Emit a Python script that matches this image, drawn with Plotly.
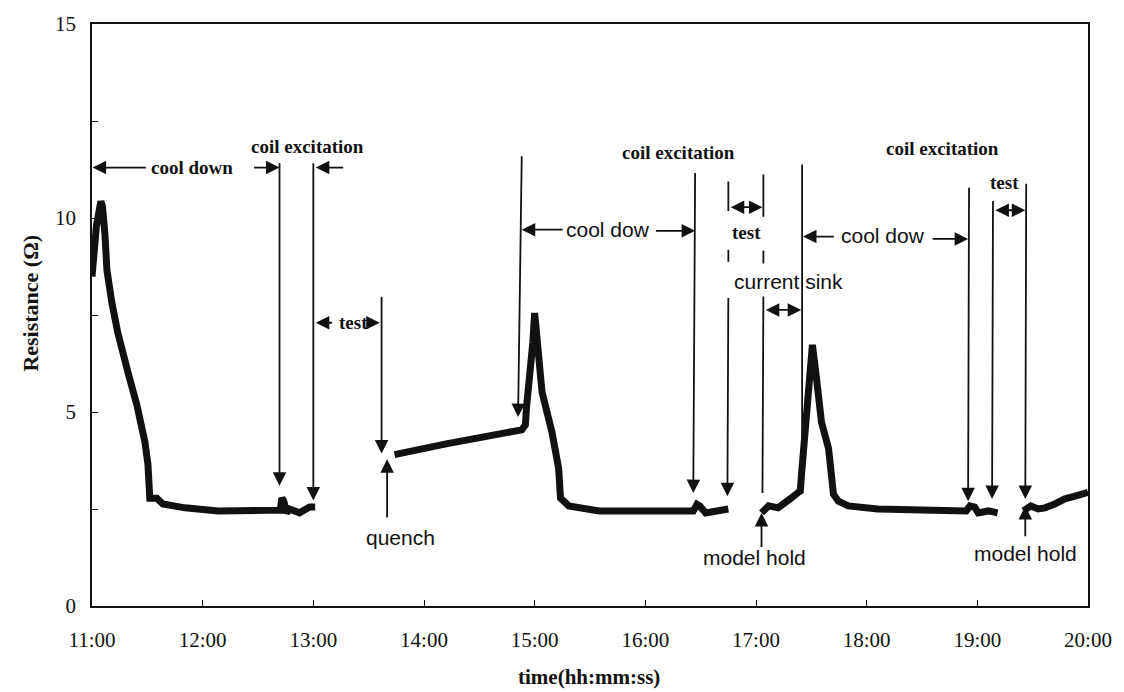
import plotly.graph_objects as go

DAY = "2000-01-01 "

# ---- data ----
time_a = ["11:00:00", "11:00:36", "11:02:24", "11:04:48", "11:05:40", "11:07:00", "11:08:06",
          "11:10:48", "11:14:00", "11:19:30", "11:24:20", "11:28:40", "11:30:20", "11:31:20",
          "11:35:10", "11:38:25", "11:50:25", "12:08:25", "12:36:00", "12:42:00", "12:43:00",
          "12:44:00", "12:45:30", "12:47:00", "12:52:30", "12:58:00", "13:01:00"]
res_a = [8.49, 8.83, 9.8, 10.43, 10.3, 9.59, 8.65,
         7.81, 7.04, 6.02, 5.18, 4.23, 3.65, 2.78,
         2.78, 2.63, 2.53, 2.45, 2.45, 2.47, 2.78,
         2.7, 2.40, 2.50, 2.40, 2.55, 2.55]

time_b = ["13:44:00", "14:12:00", "14:53:00", "14:55:00", "14:55:30", "14:56:40", "14:59:00",
          "15:00:00", "15:01:50", "15:04:00", "15:09:20", "15:13:00", "15:14:00", "15:18:30",
          "15:35:00", "16:26:00", "16:28:00", "16:29:30", "16:32:40", "16:38:00", "16:43:30",
          "16:45:00"]
res_b = [3.90, 4.18, 4.54, 4.67, 5.08, 5.59, 6.79,
         7.55, 6.61, 5.51, 4.49, 3.55, 2.78, 2.58,
         2.45, 2.45, 2.62, 2.58, 2.40, 2.45, 2.53,
         2.50]

time_c = ["17:03:00", "17:06:50", "17:12:00", "17:16:00", "17:19:00", "17:23:00", "17:24:00",
          "17:24:40", "17:25:10", "17:25:50", "17:27:25", "17:29:30", "17:30:35", "17:32:25",
          "17:34:00", "17:35:30", "17:39:20", "17:41:00", "17:42:00", "17:44:40", "17:50:00",
          "18:06:00", "18:54:00", "18:56:00", "18:58:30", "19:00:30", "19:06:00", "19:11:00"]
res_c = [2.40, 2.58, 2.53, 2.65, 2.78, 2.93, 2.96,
         3.39, 3.72, 4.16, 5.26, 6.28, 6.73, 6.02,
         5.26, 4.74, 4.06, 3.39, 2.88, 2.70, 2.58,
         2.50, 2.45, 2.58, 2.55, 2.40, 2.45, 2.40]

time_d = ["19:25:00", "19:29:00", "19:33:00", "19:36:40", "19:42:00", "19:47:30", "19:53:00",
          "20:00:00"]
res_d = [2.45, 2.58, 2.50, 2.53, 2.63, 2.76, 2.83, 2.93]

hour_ticks = ["11:00", "12:00", "13:00", "14:00", "15:00", "16:00", "17:00", "18:00",
              "19:00", "20:00"]
y_ticks = [0, 2.5, 5, 7.5, 10, 12.5, 15]
y_tick_labels = ["0", "", "5", "", "10", "", "15"]

# ---- build curve ----
xs, ys = [], []
for tl, rl in [(time_a, res_a), (time_b, res_b), (time_c, res_c), (time_d, res_d)]:
    xs += [DAY + t for t in tl] + [None]
    ys += list(rl) + [None]

fig = go.Figure()
fig.add_trace(go.Scatter(x=xs, y=ys, mode="lines", connectgaps=False,
                         line=dict(color="#111111", width=7), showlegend=False,
                         hoverinfo="skip"))

SERIF = "Liberation Serif"
SANS = "Liberation Sans"
INK = "#111111"
annotations = []
shapes = []


def T(hms):
    return DAY + hms


def arrow(t0, y0, t1, y1, both=False):
    annotations.append(dict(x=T(t1), y=y1, ax=T(t0), ay=y0, xref="x", yref="y",
                            axref="x", ayref="y", text="", showarrow=True,
                            arrowhead=2, arrowsize=1.5, arrowwidth=1.8,
                            arrowcolor=INK,
                            arrowside="end+start" if both else "end",
                            startarrowhead=2, startarrowsize=1.5))


def line(t0, y0, t1, y1):
    shapes.append(dict(type="line", xref="x", yref="y", x0=T(t0), y0=y0, x1=T(t1), y1=y1,
                       line=dict(color=INK, width=1.8)))


def label(t, y, s, serif=True):
    annotations.append(dict(x=T(t), y=y, xref="x", yref="y", text=s, showarrow=False,
                            xanchor="center", yanchor="middle",
                            font=dict(family=SERIF if serif else SANS,
                                      size=19 if serif else 21, color=INK,
                                      weight="bold" if serif else "normal")))


# group 1
label("11:54:00", 11.30, "cool down")
arrow("11:30:00", 11.30, "11:00:20", 11.30)
arrow("12:27:00", 11.30, "12:41:40", 11.30)
arrow("12:41:40", 11.45, "12:41:40", 3.10)
label("12:57:00", 11.85, "coil excitation")
arrow("13:00:00", 11.45, "13:00:00", 2.72)
arrow("13:17:00", 11.30, "13:01:20", 11.30)
arrow("13:11:00", 7.30, "13:01:20", 7.30)
label("13:22:00", 7.30, "test")
arrow("13:33:00", 7.30, "13:36:00", 7.30)
arrow("13:37:00", 8.01, "13:37:00", 3.93)
arrow("13:40:00", 2.24, "13:40:00", 3.78)
label("13:47:00", 1.76, "quench", serif=False)

# group 2
arrow("14:53:00", 11.63, "14:51:00", 4.87)
label("15:40:00", 9.70, "cool dow", serif=False)
arrow("15:16:00", 9.70, "14:53:00", 9.70)
arrow("16:05:00", 9.67, "16:27:00", 9.67)
arrow("16:27:00", 11.20, "16:26:00", 2.91)
label("16:18:00", 11.70, "coil excitation")
line("16:45:00", 10.94, "16:45:00", 10.18)
line("16:45:00", 9.18, "16:45:00", 8.87)
arrow("16:45:00", 7.98, "16:44:30", 2.83)
line("17:04:00", 11.12, "17:04:00", 10.03)
line("17:04:00", 9.16, "17:04:00", 8.83)
line("17:04:00", 7.98, "17:03:30", 2.91)
arrow("16:45:30", 10.28, "17:03:30", 10.28, both=True)
label("16:55:00", 9.62, "test")
label("17:17:30", 8.37, "current sink", serif=False)
arrow("17:04:30", 7.63, "17:24:30", 7.63, both=True)
line("17:25:00", 11.38, "17:25:00", 3.4)

# group 3
label("18:09:00", 9.55, "cool dow", serif=False)
arrow("17:43:00", 9.52, "17:25:30", 9.52)
arrow("18:35:00", 9.46, "18:55:00", 9.46)
arrow("18:55:30", 10.82, "18:55:00", 2.70)
label("18:41:00", 11.80, "coil excitation")
label("19:14:30", 10.92, "test")
arrow("19:09:00", 10.20, "19:26:00", 10.20, both=True)
arrow("19:08:30", 10.48, "19:08:00", 2.76)
arrow("19:26:30", 10.92, "19:26:00", 2.76)
arrow("19:26:00", 1.76, "19:26:00", 2.58)
label("19:26:00", 1.35, "model hold", serif=False)
arrow("17:03:00", 1.48, "17:03:00", 2.40)
label("16:59:00", 1.25, "model hold", serif=False)

# axis titles placed as paper annotations
annotations.append(dict(xref="paper", yref="paper", x=-0.062, y=0.52, text="Resistance (Ω)",
                        textangle=-90, showarrow=False, xanchor="center", yanchor="middle",
                        font=dict(family=SERIF, size=22, color=INK, weight="bold")))
annotations.append(dict(xref="paper", yref="paper", x=0.4985, y=-0.122, text="time(hh:mm:ss)",
                        showarrow=False, xanchor="center", yanchor="middle",
                        font=dict(family=SERIF, size=21, color=INK, weight="bold")))

fig.update_layout(
    width=1124, height=692,
    margin=dict(l=92, r=34, t=18, b=86),
    paper_bgcolor="white", plot_bgcolor="white",
    annotations=annotations, shapes=shapes,
    xaxis=dict(type="date", range=[T("11:00:00"), T("20:00:00")],
               tickvals=[T(h + ":00") for h in hour_ticks], ticktext=hour_ticks,
               ticks="inside", ticklen=6, tickwidth=1.2, tickcolor=INK,
               showline=True, linecolor=INK, linewidth=1.5, mirror=True,
               showgrid=False, zeroline=False, ticklabelstandoff=14,
               tickfont=dict(family=SERIF, size=21, color=INK)),
    yaxis=dict(range=[0, 15], tickvals=y_ticks, ticktext=y_tick_labels,
               ticks="inside", ticklen=6, tickwidth=1.2, tickcolor=INK,
               showline=True, linecolor=INK, linewidth=1.5, mirror=True,
               showgrid=False, zeroline=False, ticklabelstandoff=10,
               tickfont=dict(family=SERIF, size=21, color=INK)),
)

fig.write_html("out.html")
